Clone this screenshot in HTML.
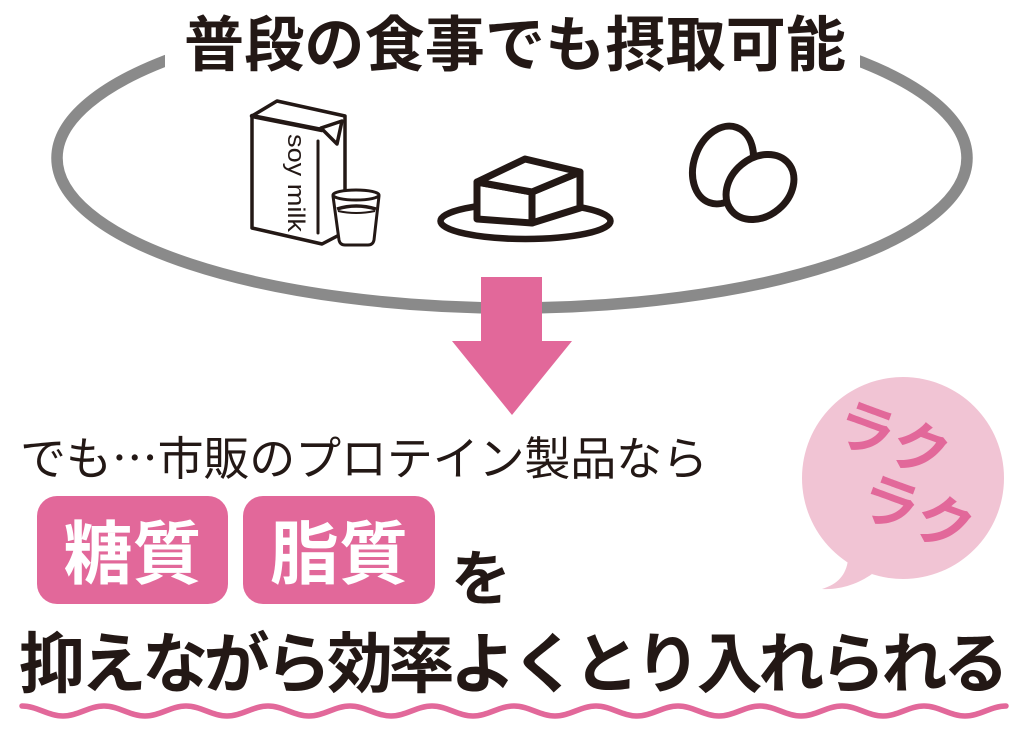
<!DOCTYPE html>
<html>
<head>
<meta charset="utf-8">
<style>
html,body{margin:0;padding:0;background:#fff;width:1024px;height:741px;overflow:hidden}
svg{display:block}
.jp{font-family:"Liberation Sans","Noto Sans CJK JP",sans-serif}
</style>
</head>
<body>
<svg width="1024" height="741" viewBox="0 0 1024 741" xmlns="http://www.w3.org/2000/svg">
  <rect width="1024" height="741" fill="#fff"/>

  <!-- big gray ellipse -->
  <ellipse cx="512" cy="158" rx="455" ry="150" fill="none" stroke="#8a8a8a" stroke-width="11.5"/>
  <rect x="165" y="0" width="695" height="80" fill="#fff"/>

  <!-- title -->
  <text class="jp" x="184" y="66" font-size="60" font-weight="700" fill="#231815" textLength="662" lengthAdjust="spacing">普段の食事でも摂取可能</text>

  <!-- soy milk carton -->
  <g stroke="#231815" stroke-linejoin="round" stroke-linecap="round" fill="#fff">
    <path d="M252,116 L277,101 L345,116 L345,232 L322,244 L252,228 Z" stroke-width="3.5"/>
    <path d="M252,116 L322,130" stroke-width="4.5" fill="none"/>
    <path d="M321,128 L342,121 L337,144 Z" stroke-width="3.5"/>
    <path d="M318,141 L318,233" stroke-width="3" fill="none"/>
  </g>
  <text transform="translate(288,134) rotate(90)" font-family="Liberation Sans, sans-serif" font-size="24" fill="#231815" textLength="98" lengthAdjust="spacingAndGlyphs">soy milk</text>

  <!-- glass -->
  <g stroke="#231815" stroke-width="3" fill="#fff" stroke-linejoin="round">
    <path d="M333,196 L339,240 Q340,245 345,245 L368,245 Q373,245 374,240 L379,196 Z"/>
    <ellipse cx="356" cy="195" rx="23" ry="5"/>
    <path d="M337,209 Q356,203 376,209" fill="none" stroke-width="3.5"/>
    <path d="M338,211 Q356,215 375,211" fill="none" stroke-width="2"/>
  </g>

  <!-- tofu on plate -->
  <g stroke="#231815" stroke-linejoin="round" fill="#fff">
    <ellipse cx="525.5" cy="221" rx="85" ry="18" stroke-width="6.5"/>
    <path d="M477,182 L532,192 L532,223 L477,219 Z" stroke-width="7"/>
    <path d="M532,192 L580,172 L580,208 L532,223 Z" stroke-width="7"/>
    <path d="M477,182 L525,159 L580,172 L532,192 Z" stroke-width="7"/>
  </g>

  <!-- eggs -->
  <g stroke="#231815" stroke-width="7" fill="#fff">
    <ellipse cx="723" cy="165" rx="29" ry="40" transform="rotate(20 723 165)"/>
    <ellipse cx="760" cy="187" rx="37" ry="29" transform="rotate(-40 760 187)"/>
  </g>

  <!-- pink arrow -->
  <path d="M481,277 L542,277 L542,341 L572,341 L512,415 L452,341 L481,341 Z" fill="#e2689a"/>

  <!-- speech bubble -->
  <path d="M848,560 C846,575 838,584 822,589 C840,590 858,584 872,574 Z" fill="#f1c4d4"/>
  <circle cx="903" cy="478" r="101" fill="#f1c4d4"/>
  <g transform="translate(893,440) rotate(20)">
    <text class="jp" x="0" y="20" font-size="58" font-weight="700" fill="#e2689a" text-anchor="middle">ラク</text>
  </g>
  <g transform="translate(917,514) rotate(20)">
    <text class="jp" x="0" y="20" font-size="58" font-weight="700" fill="#e2689a" text-anchor="middle">ラク</text>
  </g>

  <!-- sub line -->
  <text class="jp" x="20" y="475" font-size="46" font-weight="400" fill="#231815" textLength="688" lengthAdjust="spacing">でも<tspan font-family="Noto Sans CJK JP, sans-serif">…</tspan>市販のプロテイン製品なら</text>

  <!-- pink boxes -->
  <rect x="37" y="496" width="191" height="108" rx="20" fill="#e2689a"/>
  <rect x="243" y="496" width="192" height="108" rx="20" fill="#e2689a"/>
  <text class="jp" x="132.5" y="578" font-size="69" font-weight="700" fill="#fff" text-anchor="middle">糖質</text>
  <text class="jp" x="339" y="578" font-size="69" font-weight="700" fill="#fff" text-anchor="middle">脂質</text>
  <text class="jp" x="451" y="600" font-size="60" font-weight="700" fill="#231815">を</text>

  <!-- bottom line -->
  <text class="jp" x="19" y="687" font-size="66" font-weight="700" fill="#231815" textLength="990" lengthAdjust="spacing">抑えながら効率よくとり入れられる</text>

  <!-- wavy underline -->
  <path d="M22,706 C36.8,706 48.2,716 63,716 S89.2,706 104,706 S130.2,716 145,716 S171.2,706 186,706 S212.2,716 227,716 S253.2,706 268,706 S294.2,716 309,716 S335.2,706 350,706 S376.2,716 391,716 S417.2,706 432,706 S458.2,716 473,716 S499.2,706 514,706 S540.2,716 555,716 S581.2,706 596,706 S622.2,716 637,716 S663.2,706 678,706 S704.2,716 719,716 S745.2,706 760,706 S786.2,716 801,716 S827.2,706 842,706 S868.2,716 883,716 S909.2,706 924,706 S950.2,716 965,716 S991.2,706 1006,706" fill="none" stroke="#e2689a" stroke-width="5.5" stroke-linecap="round"/>
</svg>
</body>
</html>
